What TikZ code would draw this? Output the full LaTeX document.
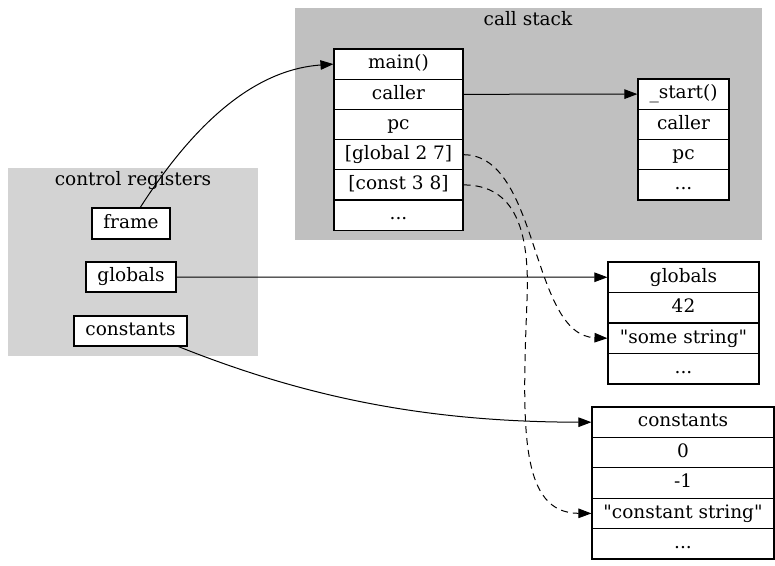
\documentclass[tikz,border=0pt]{standalone}
\usepackage{fontspec}
\setmainfont{DejaVu Serif}[Ligatures=TeXOff]
\usetikzlibrary{arrows.meta}
\definecolor{csgray}{RGB}{192,192,192}
\definecolor{crgray}{RGB}{211,211,211}
\begin{document}
\begin{tikzpicture}[x=1pt,y=-1pt,
  font=\fontsize{18.5}{22}\selectfont,
  cell/.style={draw, fill=white, line width=1.1pt, inner sep=0pt, text height=13.5pt, text depth=4pt},
  mainrow/.style={cell, minimum width=129pt, minimum height=30.2pt},
  startrow/.style={cell, minimum width=91pt, minimum height=30.25pt},
  globrow/.style={cell, minimum width=151pt, minimum height=30.5pt},
  constrow/.style={cell, minimum width=182pt, minimum height=30.4pt},
  title/.style={inner sep=0pt, text height=13.5pt, text depth=4pt},
  edge/.style={line width=1pt, -{Triangle[length=13pt,width=9.5pt]}},
  dashedge/.style={edge, dash pattern=on 7pt off 5pt}]
\useasboundingbox (0,0) rectangle (775,565);
% clusters
\fill[csgray] (295,8) rectangle (762,240);
\fill[crgray] (8,168) rectangle (258,356);
\node[title] (cstitle) at (528,21) {call stack};
\node[title] (crtitle) at (133,181) {control registers};
% main() frame
\node[mainrow] (m0) at (398.5,64.1) {main()};
\node[mainrow] (m1) at (398.5,94.3) {caller};
\node[mainrow] (m2) at (398.5,124.5) {pc};
\node[mainrow] (m3) at (398.5,154.7) {[global 2 7]};
\node[mainrow] (m4) at (398.5,184.9) {[const 3 8]};
\node[mainrow] (m5) at (398.5,215.1) {...};
% _start() frame
\node[startrow] (s0) at (683.5,94.1) {\_start()};
\node[startrow] (s1) at (683.5,124.4) {caller};
\node[startrow] (s2) at (683.5,154.6) {pc};
\node[startrow] (s3) at (683.5,184.9) {...};
% control registers
\node[cell, minimum width=78pt, minimum height=31pt] (frame) at (131,223.5) {frame};
\node[cell, minimum width=90pt, minimum height=30pt] (globreg) at (131,277) {globals};
\node[cell, minimum width=113pt, minimum height=30pt] (constreg) at (130.5,331) {constants};
% globals record
\node[globrow] (g0) at (683.5,277.25) {globals};
\node[globrow] (g1) at (683.5,307.75) {42};
\node[globrow] (g2) at (683.5,338.25) {"some string"};
\node[globrow] (g3) at (683.5,368.75) {...};
% constants record
\node[constrow] (c0) at (683,422.2) {constants};
\node[constrow] (c1) at (683,452.6) {0};
\node[constrow] (c2) at (683,483) {-1};
\node[constrow] (c3) at (683,513.4) {"constant string"};
\node[constrow] (c4) at (683,543.8) {...};
% edges
\draw[edge] (frame.60) .. controls (190,130) and (250,70) .. (m0.west);
\draw[edge] (m1.east) -- (s0.west);
\draw[edge] (globreg.east) -- (g0.west);
\draw[edge] (constreg.-18) .. controls (300,395) and (420,422) .. (c0.west);
\draw[dashedge] (m3.east) .. controls (540,155) and (530,335) .. (g2.west);
\draw[dashedge] (m4.east) .. controls (515,185) and (530,230) .. (527,300)
  .. controls (522,430) and (520,513) .. (c3.west);
\end{tikzpicture}
\end{document}
